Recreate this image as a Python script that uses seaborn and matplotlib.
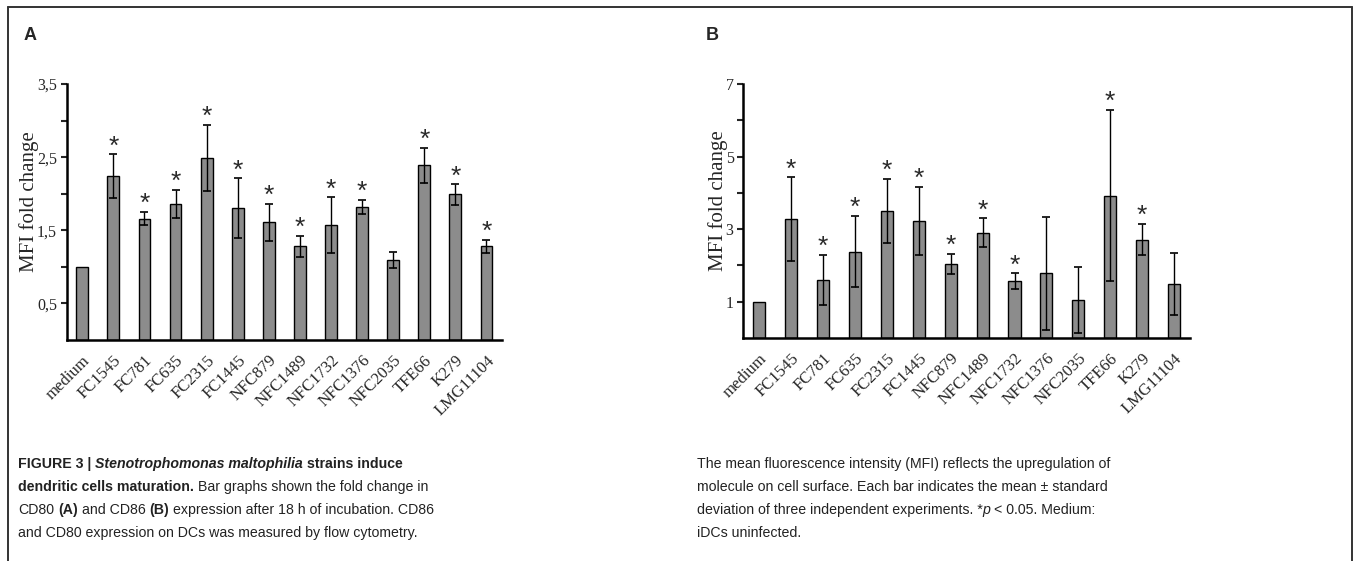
import matplotlib

matplotlib.use("Agg")
import matplotlib.pyplot as plt
import numpy as np
import pandas as pd
import seaborn as sns
from matplotlib.lines import Line2D

W, H = 1356, 561

STRAINS = [
    "medium", "FC1545", "FC781", "FC635", "FC2315", "FC1445", "NFC879",
    "NFC1489", "NFC1732", "NFC1376", "NFC2035", "TFE66", "K279", "LMG11104",
]

# CD80 (panel A)
CD80_MEAN = [1.0, 2.24, 1.66, 1.86, 2.49, 1.80, 1.61, 1.28, 1.57, 1.82, 1.09, 2.39, 1.99, 1.28]
CD80_SD = [0.0, 0.30, 0.09, 0.19, 0.45, 0.41, 0.25, 0.14, 0.38, 0.10, 0.11, 0.24, 0.14, 0.09]
CD80_SIG = [0, 1, 1, 1, 1, 1, 1, 1, 1, 1, 0, 1, 1, 1]
CD80_TICKS = [0.5, 1.0, 1.5, 2.0, 2.5, 3.0, 3.5]
CD80_TICKLABELS = ["0,5", "", "1,5", "", "2,5", "", "3,5"]

# CD86 (panel B)
CD86_MEAN = [1.0, 3.27, 1.60, 2.38, 3.50, 3.23, 2.04, 2.90, 1.56, 1.78, 1.05, 3.92, 2.71, 1.48]
CD86_SD = [0.0, 1.16, 0.69, 0.98, 0.88, 0.93, 0.27, 0.40, 0.22, 1.55, 0.90, 2.36, 0.43, 0.85]
CD86_SIG = [0, 1, 1, 1, 1, 1, 1, 1, 1, 0, 0, 1, 1, 0]
CD86_TICKS = [1, 2, 3, 4, 5, 6, 7]
CD86_TICKLABELS = ["1", "", "3", "", "5", "", "7"]

BAR_COLOR = "#8c8c8c"
SERIF = ["Liberation Serif", "DejaVu Serif"]
SANS = ["Liberation Sans", "DejaVu Sans"]

LEFT_CAPTION = [
    [("FIGURE 3 | ", "bold", "normal"), ("Stenotrophomonas maltophilia", "bold", "italic"),
     (" strains induce", "bold", "normal")],
    [("dendritic cells maturation.", "bold", "normal"),
     (" Bar graphs shown the fold change in", "normal", "normal")],
    [("CD80 ", "normal", "normal"), ("(A)", "bold", "normal"), (" and CD86 ", "normal", "normal"),
     ("(B)", "bold", "normal"), (" expression after 18 h of incubation. CD86", "normal", "normal")],
    [("and CD80 expression on DCs was measured by flow cytometry.", "normal", "normal")],
]
RIGHT_CAPTION = [
    [("The mean fluorescence intensity (MFI) reflects the upregulation of", "normal", "normal")],
    [("molecule on cell surface. Each bar indicates the mean \u00b1 standard", "normal", "normal")],
    [("deviation of three independent experiments. *", "normal", "normal"), ("p", "normal", "italic"),
     (" < 0.05. Medium:", "normal", "normal")],
    [("iDCs uninfected.", "normal", "normal")],
]


def bar_panel(ax, means, sds, sig, ticks, ticklabels, ymax, label_x):
    df = pd.DataFrame({"strain": STRAINS, "mfi": means})
    sns.barplot(
        data=df, x="strain", y="mfi", color=BAR_COLOR, saturation=1,
        width=0.38, edgecolor="black", linewidth=1.0, errorbar=None, ax=ax,
    )
    x = np.arange(len(STRAINS))
    means = np.asarray(means)
    sds = np.asarray(sds)
    has_err = sds > 0
    ax.errorbar(
        x[has_err], means[has_err], yerr=sds[has_err], fmt="none",
        ecolor="black", elinewidth=1.0, capsize=3, capthick=1.2, zorder=3,
    )
    for xi, m, s, star in zip(x, means, sds, sig):
        if star:
            ax.annotate("*", (xi, m + s), xytext=(0, -3), textcoords="offset points",
                        ha="center", va="bottom", fontsize=19, family=SANS,
                        color="#2a2a2a", annotation_clip=False)

    ax.set_xlim(-0.5, len(STRAINS) - 0.5)
    ax.set_ylim(0, ymax)
    ax.set_yticks(ticks)
    ax.set_yticklabels(ticklabels, family=SERIF, fontsize=11.5)
    ax.set_xticks(x)
    ax.set_xticklabels(STRAINS, rotation=45, ha="right", rotation_mode="anchor",
                       family=SERIF, fontsize=12)
    ax.tick_params(axis="x", length=0, pad=9)
    ax.tick_params(axis="y", length=4, width=1.5, direction="out", pad=3)
    ax.set_xlabel("")
    ax.set_ylabel("MFI fold change", family=SERIF, fontsize=15)
    ax.yaxis.set_label_coords(label_x, 0.54)
    for side in ["top", "right"]:
        ax.spines[side].set_visible(False)
    for side in ["left", "bottom"]:
        ax.spines[side].set_linewidth(1.8)
        ax.spines[side].set_color("black")


def draw_caption(fig, renderer, x0, y0, lines, size=10.2, step=23):
    def width(s, weight, style):
        t = fig.text(0, 0, s, fontsize=size, family=SANS, weight=weight, style=style)
        w = t.get_window_extent(renderer).width
        t.remove()
        return w

    space = width("a a", "normal", "normal") - width("aa", "normal", "normal")
    for i, runs in enumerate(lines):
        x = x0
        y = y0 + i * step
        for s, weight, style in runs:
            lead = len(s) - len(s.lstrip(" "))
            trail = len(s) - len(s.rstrip(" "))
            x += lead * space
            core = s.strip(" ")
            fig.text(x / W, 1 - y / H, core, fontsize=size, family=SANS, weight=weight,
                     style=style, color="#222222", va="baseline", ha="left")
            x += width(core, weight, style) + trail * space


sns.set_style("ticks")
plt.rcParams["font.family"] = SANS

fig = plt.figure(figsize=(W / 100, H / 100), dpi=100)
ax_a = fig.add_axes([66.7 / W, 1 - 340 / H, (502 - 66.7) / W, (340 - 84) / H])
ax_b = fig.add_axes([743.3 / W, 1 - 338 / H, (1190 - 743.3) / W, (338 - 84) / H])

bar_panel(ax_a, CD80_MEAN, CD80_SD, CD80_SIG, CD80_TICKS, CD80_TICKLABELS, 3.5,
          (39 - 66.7) / (502 - 66.7))
bar_panel(ax_b, CD86_MEAN, CD86_SD, CD86_SIG, CD86_TICKS, CD86_TICKLABELS, 7,
          (728 - 743.3) / (1190 - 743.3))

fig.text(24 / W, 1 - 40 / H, "A", fontsize=13, weight="bold", family=SANS)
fig.text(706 / W, 1 - 40 / H, "B", fontsize=13, weight="bold", family=SANS)

# panel frame (top, left, right edges)
frame_kw = dict(transform=fig.transFigure, color="#333333", lw=1.4)
fig.add_artist(Line2D([8 / W, 1352 / W], [1 - 7 / H, 1 - 7 / H], **frame_kw))
fig.add_artist(Line2D([8 / W, 8 / W], [0, 1 - 7 / H], **frame_kw))
fig.add_artist(Line2D([1352 / W, 1352 / W], [0, 1 - 7 / H], **frame_kw))

renderer = fig.canvas.get_renderer()
draw_caption(fig, renderer, 18, 468, LEFT_CAPTION)
draw_caption(fig, renderer, 697, 468, RIGHT_CAPTION)

fig.savefig("out.png", dpi=100)
